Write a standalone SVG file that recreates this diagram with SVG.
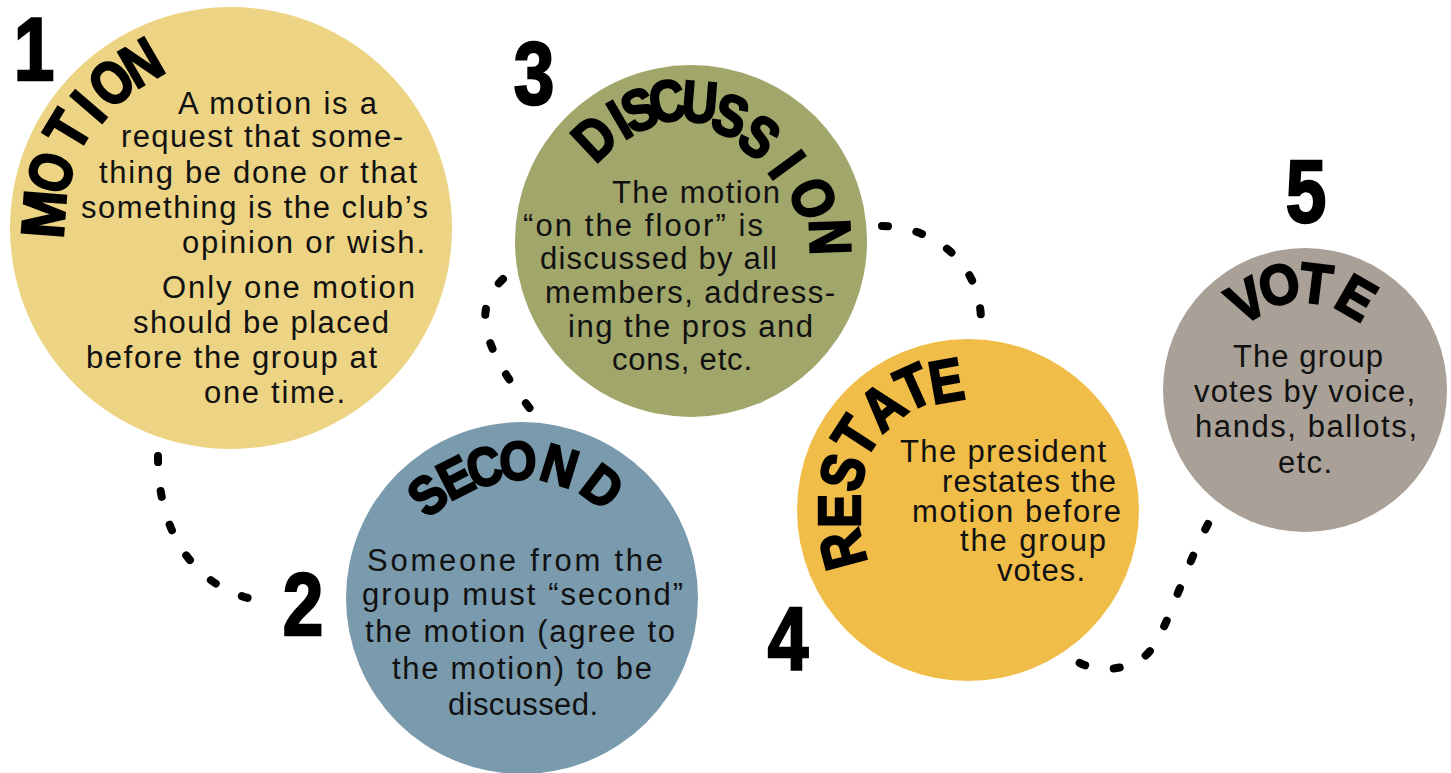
<svg xmlns="http://www.w3.org/2000/svg" width="1451" height="773" viewBox="0 0 1451 773">
<style>
.body{font-family:"Liberation Sans",Arial,sans-serif;font-size:31px;fill:#111;}
.t{font-family:"Liberation Sans",Arial,sans-serif;font-weight:700;fill:#000;stroke:#000;stroke-width:2.4;stroke-linejoin:miter;text-anchor:middle;}
.num{font-family:"Liberation Sans",Arial,sans-serif;font-weight:700;font-size:89px;fill:#000;stroke:#000;stroke-width:2.5;text-anchor:middle;}
.dash{fill:none;stroke:#000;stroke-width:8;stroke-linecap:round;stroke-dasharray:6 29;}
</style>
<rect width="1451" height="773" fill="#fff"/>
<g id="connectors">
<path class="dash" d="M158,456 C158,540 200,585 248,598"/>
<path class="dash" d="M503,279 C470,310 485,350 531,410"/>
<path class="dash" d="M882,226 C930,226 980,260 981,320"/>
<path class="dash" d="M1208,524 C1180,578 1165,640 1145,656 C1125,672 1095,672 1078,662"/>
</g>
<g id="node-motion">
<circle cx="231" cy="228" r="221" fill="#ECD484"/>
<text class="num" transform="translate(34,80) scale(0.82,1)">1</text>
<g class="t" font-size="60">
<text transform="translate(43,214) rotate(-85.7) scale(0.95,1)" y="21.5">M</text>
<text transform="translate(50,172) rotate(-72.8) scale(0.82,1)" y="21.5">O</text>
<text transform="translate(67,130) rotate(-58.6) scale(0.85,1)" y="21.5">T</text>
<text transform="translate(88,106) rotate(-49.3) scale(0.85,1)" y="21.5">I</text>
<text transform="translate(111,82) rotate(-39.6) scale(0.82,1)" y="21.5">O</text>
<text transform="translate(141,62) rotate(-30) scale(0.85,1)" y="21.5">N</text>
</g>
<g class="body">
<text x="178" y="114" textLength="199" lengthAdjust="spacing">A motion is a</text>
<text x="121" y="147" textLength="282" lengthAdjust="spacing">request that some-</text>
<text x="99" y="183" textLength="318" lengthAdjust="spacing">thing be done or that</text>
<text x="81" y="218" textLength="347" lengthAdjust="spacing">something is the club’s</text>
<text x="182" y="253" textLength="243" lengthAdjust="spacing">opinion or wish.</text>
<text x="162" y="298" textLength="253" lengthAdjust="spacing">Only one motion</text>
<text x="133" y="333" textLength="256" lengthAdjust="spacing">should be placed</text>
<text x="86" y="368" textLength="291" lengthAdjust="spacing">before the group at</text>
<text x="204" y="403" textLength="141" lengthAdjust="spacing">one time.</text>
</g>
</g>
<g id="node-second">
<circle cx="522" cy="598" r="176" fill="#7A9AAD"/>
<text class="num" transform="translate(303,635) scale(0.82,1)">2</text>
<g class="t" font-size="54">
<text transform="translate(427,494) rotate(-40.6) scale(0.88,1)" y="19.5">S</text>
<text transform="translate(455,477) rotate(-27) scale(0.88,1)" y="19.5">E</text>
<text transform="translate(484,466) rotate(-14.9) scale(0.88,1)" y="19.5">C</text>
<text transform="translate(518,460) rotate(-1) scale(0.88,1)" y="19.5">O</text>
<text transform="translate(560,465) rotate(17) scale(0.9,1)" y="19.5">N</text>
<text transform="translate(603,486) rotate(37) scale(0.9,1)" y="19.5">D</text>
</g>
<g class="body" font-size="32">
<text x="367" y="571" textLength="296" lengthAdjust="spacing">Someone from the</text>
<text x="362" y="605" textLength="321" lengthAdjust="spacing">group must “second”</text>
<text x="365" y="642" textLength="310" lengthAdjust="spacing">the motion (agree to</text>
<text x="392" y="679" textLength="260" lengthAdjust="spacing">the motion) to be</text>
<text x="448" y="715" textLength="150" lengthAdjust="spacing">discussed.</text>
</g>
</g>
<g id="node-discussion">
<circle cx="691" cy="241" r="176" fill="#A1A66B"/>
<text class="num" transform="translate(534,104) scale(0.82,1)">3</text>
<g class="t" font-size="58">
<text transform="translate(594,137) rotate(-43) scale(0.85,1)" y="21">D</text>
<text transform="translate(619,119) rotate(-30.3) scale(0.85,1)" y="21">I</text>
<text transform="translate(639,109) rotate(-21.7) scale(0.85,1)" y="21">S</text>
<text transform="translate(667,100) rotate(-10.4) scale(0.85,1)" y="21">C</text>
<text transform="translate(700,101) rotate(4.5) scale(0.85,1)" y="21">U</text>
<text transform="translate(731,115) rotate(20) scale(0.85,1)" y="21">S</text>
<text transform="translate(760,136) rotate(37) scale(0.85,1)" y="21">S</text>
<text transform="translate(788,164) rotate(53.8) scale(0.85,1)" y="21">I</text>
<text transform="translate(814,198) rotate(70) scale(0.85,1)" y="21">O</text>
<text transform="translate(831,237) rotate(88) scale(0.85,1)" y="21">N</text>
</g>
<g class="body" font-size="30">
<text x="612" y="203" textLength="168" lengthAdjust="spacing">The motion</text>
<text x="523" y="236" textLength="240" lengthAdjust="spacing">“on the floor” is</text>
<text x="540" y="269" textLength="237" lengthAdjust="spacing">discussed by all</text>
<text x="545" y="303" textLength="290" lengthAdjust="spacing">members, address-</text>
<text x="568" y="337" textLength="245" lengthAdjust="spacing">ing the pros and</text>
<text x="612" y="370" textLength="140" lengthAdjust="spacing">cons, etc.</text>
</g>
</g>
<g id="node-restate">
<circle cx="968" cy="510" r="171" fill="#F1BD49"/>
<text class="num" transform="translate(788,670) scale(0.82,1)">4</text>
<g class="t" font-size="60">
<text transform="translate(842,550) rotate(-105) scale(0.85,1)" y="21.5">R</text>
<text transform="translate(838,511) rotate(-90) scale(0.85,1)" y="21.5">E</text>
<text transform="translate(842,472) rotate(-74) scale(0.85,1)" y="21.5">S</text>
<text transform="translate(855,436) rotate(-57) scale(0.85,1)" y="21.5">T</text>
<text transform="translate(882,406) rotate(-40) scale(0.85,1)" y="21.5">A</text>
<text transform="translate(913,386) rotate(-24) scale(0.85,1)" y="21.5">T</text>
<text transform="translate(946,380) rotate(-10) scale(0.85,1)" y="21.5">E</text>
</g>
<g class="body" font-size="30">
<text x="900" y="462" textLength="206" lengthAdjust="spacing">The president</text>
<text x="942" y="492" textLength="174" lengthAdjust="spacing">restates the</text>
<text x="912" y="522" textLength="209" lengthAdjust="spacing">motion before</text>
<text x="960" y="551" textLength="146" lengthAdjust="spacing">the group</text>
<text x="997" y="581" textLength="88" lengthAdjust="spacing">votes.</text>
</g>
</g>
<g id="node-vote">
<circle cx="1305" cy="390" r="142" fill="#A9A097"/>
<text class="num" transform="translate(1306,222) scale(0.82,1)">5</text>
<g class="t" font-size="56">
<text transform="translate(1246,300) rotate(-30) scale(0.92,1)" y="20">V</text>
<text transform="translate(1279,284) rotate(-13) scale(0.92,1)" y="20">O</text>
<text transform="translate(1316,283) rotate(7) scale(0.95,1)" y="20">T</text>
<text transform="translate(1357,297) rotate(30) scale(0.92,1)" y="20">E</text>
</g>
<g class="body" font-size="31">
<text x="1233" y="367" textLength="150" lengthAdjust="spacing">The group</text>
<text x="1194" y="402" textLength="221" lengthAdjust="spacing">votes by voice,</text>
<text x="1195" y="437" textLength="222" lengthAdjust="spacing">hands, ballots,</text>
<text x="1278" y="473" textLength="54" lengthAdjust="spacing">etc.</text>
</g>
</g>
</svg>
